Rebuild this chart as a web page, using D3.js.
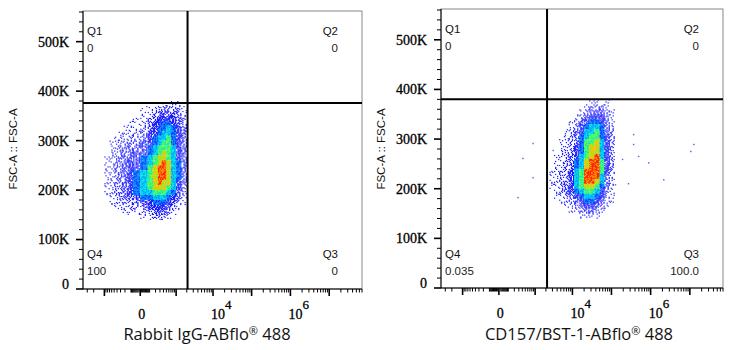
<!DOCTYPE html>
<html>
<head>
<meta charset="utf-8">
<script src="https://cdn.jsdelivr.net/npm/d3@7"></script>
<style>
body { margin: 0; background: #fff; }
</style>
</head>
<body>
<div id="chart"></div>
<script>
// ---- axis values ----
const yDomain = [0, 562000]
const yMajor = [0, 100000, 200000, 300000, 400000, 500000]
const yLabels = ["0", "100K", "200K", "300K", "400K", "500K"]
const xDomain = [-3900, 7e7]
const xMajor = [-1000, 0, 1000, 1e4, 1e5, 1e6, 1e7]
const xLabelVals = [0, 1e4, 1e6]
const xLabelBase = ["0", "10", "10"]
const xLabelExp = ["", "4", "6"]

// ---- gates and quadrant stats ----
const gateX = [2100, 2150]
const gateY = [376000, 380000]
const quadNames = ["Q1", "Q2", "Q3", "Q4"]
const quadLeft = ["0", "0", "0", "100"]
const quadRight = ["0", "0", "100.0", "0.035"]
const xTitles = ["Rabbit IgG-ABflo", "CD157/BST-1-ABflo"]
const yTitle = "FSC-A :: FSC-A"

// ---- density grids (levels 0-9), rows from 380K down to 140K in 10K steps ----
const yEdges = [380000, 370000, 360000, 350000, 340000, 330000, 320000, 310000, 300000,
  290000, 280000, 270000, 260000, 250000, 240000, 230000, 220000, 210000, 200000,
  190000, 180000, 170000, 160000, 150000, 140000]

const leftXEdges = [-1400, -1000, -700, -500, -350, -250, -150, -75, 0, 75, 150, 250, 350, 500, 700, 1000, 1400, 2000]
const leftDensity = [
  "00000000000011110",
  "00000000111222221",
  "00000000112333331",
  "00000001123444432",
  "00000011234455432",
  "00000111234556543",
  "00001112344566543",
  "00011122345667543",
  "00111223445677543",
  "00112233456777643",
  "00112234456787643",
  "01122334567887643",
  "01122344567898653",
  "01122344578998653",
  "01122345678998653",
  "01122345678998653",
  "01122345678988643",
  "01122345678887642",
  "01122345667776532",
  "00112334556665431",
  "00111223445554321",
  "00011122344443210",
  "00000111223332100",
  "00000000112211000"
]

const rightXEdges = [2500, 3300, 4500, 6000, 8000, 11000, 15000, 20000, 27000, 37000, 50000, 66000, 90000, 120000]
const rightDensity = [
  "0000000011010",
  "0000000122210",
  "0000001233321",
  "0000012344421",
  "0000123455431",
  "0000124566531",
  "0001234667532",
  "0001235677542",
  "0011235778642",
  "0011245788642",
  "0012245788642",
  "0112346789642",
  "0112356899742",
  "0112356899742",
  "1122467999742",
  "1122467999631",
  "1122467998631",
  "1123467887531",
  "0123456776421",
  "0112345665421",
  "0011234554311",
  "0001123443210",
  "0000112332100",
  "0000001111000"
]

// scattered events outside the right cloud
const rightOutX = [420, 870, 3140, 870, 279, 368000, 368000, 895000, 493000, 192000, 1.06e7, 1.27e7, 273000, 2.16e6, 127000]
const rightOutY = [261000, 291000, 277000, 222000, 182000, 309000, 289000, 252000, 265000, 259000, 275000, 289000, 210000, 218000, 208000]

// ---- look ----
const width = 734, height = 350
const sparseColor = "#1c1cff"
const levelColors = ["", "#1c1cff", "#1c1cff", "#1c1cff", "#1c1cff", "#0a8cff", "#00dcec", "#5cff48", "#ffc000", "#ff2400"]
const levelCount = [0, 3, 6, 10, 17]
// fixed visiting order for a 5x5 sub-grid of dots inside each cell
const dotOrder = [12, 3, 21, 8, 16, 0, 19, 6, 24, 10, 2, 14, 22, 5, 17, 9, 1, 23, 13, 7, 20, 4, 11, 18, 15]

const panels = [
  {left: 83, right: 362, top: 11, bottom: 289, xDensity: leftXEdges, density: leftDensity,
   outX: [], outY: [], gx: gateX[0], gy: gateY[0], quad: quadLeft, title: xTitles[0],
   titleX: 207, yTitleX: 17, qDy: 0},
  {left: 441, right: 723, top: 9, bottom: 288, xDensity: rightXEdges, density: rightDensity,
   outX: rightOutX, outY: rightOutY, gx: gateX[1], gy: gateY[1], quad: quadRight, title: xTitles[1],
   titleX: 579, yTitleX: 385, qDy: -2}
]

const svg = d3.select("#chart").append("svg")
  .attr("width", width)
  .attr("height", height)
  .attr("viewBox", `0 0 ${width} ${height}`)

function minorX() {
  const t = []
  for (const s of [-1, 1]) {
    for (let d = 10; d <= 1e7; d *= 10) {
      for (let m = 1; m <= 9; m++) {
        const v = s * m * d
        if (v >= xDomain[0] && v <= xDomain[1] && !xMajor.includes(v)) t.push(v)
      }
    }
  }
  return t
}

function drawPanel(p, idx) {
  const g = svg.append("g")
  const x = d3.scaleSymlog().constant(135).domain(xDomain).range([p.left, p.right])
  const y = d3.scaleLinear().domain(yDomain).range([p.bottom, p.top])

  const clipId = "clip" + idx
  svg.append("clipPath").attr("id", clipId)
    .append("rect").attr("x", p.left).attr("y", p.top)
    .attr("width", p.right - p.left).attr("height", p.bottom - p.top)

  // density cells -> dots
  const dots = []
  p.density.forEach((row, r) => {
    for (let c = 0; c < row.length; c++) {
      const lv = +row[c]
      if (!lv) continue
      const x0 = x(p.xDensity[c]), x1 = x(p.xDensity[c + 1])
      const y0 = y(yEdges[r]), y1 = y(yEdges[r + 1])
      const w = (x1 - x0) / 5, h = (y1 - y0) / 5
      if (lv >= 5) {
        dots.push({x: x0, y: y0, w: x1 - x0 + 0.2, h: y1 - y0 + 0.2, color: levelColors[lv]})
      }
      const n = lv >= 5 ? 6 : levelCount[lv]
      const color = lv >= 5 ? levelColors[lv - 1] : sparseColor
      const off = (r * 7 + c * 11) % 25
      for (let k = 0; k < n; k++) {
        const pos = dotOrder[(k + off) % 25]
        const i = pos % 5, j = Math.floor(pos / 5)
        dots.push({x: x0 + i * w, y: y0 + j * h, w: 1.2, h: 1.2, color: color})
      }
    }
  })

  const plot = g.append("g").attr("clip-path", `url(#${clipId})`)
  plot.selectAll("rect.cell")
    .data(dots)
    .join("rect")
    .attr("class", "cell")
    .attr("x", d => d.x)
    .attr("y", d => d.y)
    .attr("width", d => d.w)
    .attr("height", d => d.h)
    .attr("fill", d => d.color)

  plot.selectAll("rect.out")
    .data(p.outX.map((v, i) => [v, p.outY[i]]))
    .join("rect")
    .attr("class", "out")
    .attr("x", d => x(d[0]) - 0.7)
    .attr("y", d => y(d[1]) - 0.7)
    .attr("width", 1.4)
    .attr("height", 1.4)
    .attr("fill", "#5a5af0")

  // frame
  g.append("rect")
    .attr("x", p.left).attr("y", p.top)
    .attr("width", p.right - p.left).attr("height", p.bottom - p.top)
    .attr("fill", "none").attr("stroke", "#888").attr("stroke-width", 1)

  // gates
  g.append("line")
    .attr("x1", p.left).attr("x2", p.right)
    .attr("y1", y(p.gy)).attr("y2", y(p.gy))
    .attr("stroke", "#000").attr("stroke-width", 2)
  g.append("line")
    .attr("x1", x(p.gx)).attr("x2", x(p.gx))
    .attr("y1", p.top).attr("y2", p.bottom)
    .attr("stroke", "#000").attr("stroke-width", 2)

  // y axis
  const yMinor = d3.range(0, yDomain[1], 20000).filter(v => v % 100000 !== 0)
  const ya = g.append("g").attr("transform", `translate(${p.left},0)`)
  ya.append("line").attr("y1", p.top).attr("y2", p.bottom).attr("stroke", "#000")
  ya.selectAll("line.maj").data(yMajor).join("line").attr("class", "maj")
    .attr("x1", -7).attr("x2", 0).attr("y1", d => y(d)).attr("y2", d => y(d))
    .attr("stroke", "#000").attr("stroke-width", 1.6)
  ya.selectAll("line.min").data(yMinor).join("line").attr("class", "min")
    .attr("x1", -4).attr("x2", 0).attr("y1", d => y(d)).attr("y2", d => y(d))
    .attr("stroke", "#000")
  ya.selectAll("text").data(yMajor).join("text")
    .attr("x", -14)
    .attr("y", (d, i) => y(d) + (i === 0 ? -5 : 0))
    .attr("dy", "0.35em")
    .attr("text-anchor", "end")
    .attr("font-family", "'Liberation Serif', serif")
    .attr("font-size", 14)
    .attr("fill", "#000")
    .attr("stroke", "#000")
    .attr("stroke-width", 0.3)
    .text((d, i) => yLabels[i])

  // x axis
  const xa = g.append("g").attr("transform", `translate(0,${p.bottom})`)
  xa.append("line").attr("x1", p.left).attr("x2", p.right).attr("stroke", "#000")
  xa.selectAll("line.maj").data(xMajor).join("line").attr("class", "maj")
    .attr("x1", d => x(d)).attr("x2", d => x(d)).attr("y1", 0).attr("y2", 7)
    .attr("stroke", "#000").attr("stroke-width", 1.6)
  xa.selectAll("line.min").data(minorX()).join("line").attr("class", "min")
    .attr("x1", d => x(d)).attr("x2", d => x(d)).attr("y1", 0).attr("y2", 3.5)
    .attr("stroke", "#000")
  const xl = xa.selectAll("text").data(xLabelVals).join("text")
    .attr("x", (d, i) => i === 0 ? x(d) + 1.5 : x(d) - 2)
    .attr("y", 30)
    .attr("text-anchor", (d, i) => i === 0 ? "middle" : "start")
    .attr("font-family", "'Liberation Serif', serif")
    .attr("font-size", 14)
    .attr("fill", "#000")
    .attr("stroke", "#000")
    .attr("stroke-width", 0.3)
  xl.append("tspan").text((d, i) => xLabelBase[i])
  xl.append("tspan").attr("dy", -10).attr("font-size", 13).text((d, i) => xLabelExp[i])

  // quadrant labels
  const qf = "'Liberation Sans', Arial, sans-serif"
  const qs = [
    {t: quadNames[0], v: p.quad[0], x: p.left + 4, y: 35, a: "start"},
    {t: quadNames[1], v: p.quad[1], x: p.right - 24, y: 35, a: "end"},
    {t: quadNames[2], v: p.quad[2], x: p.right - 24, y: 258, a: "end"},
    {t: quadNames[3], v: p.quad[3], x: p.left + 4, y: 258, a: "start"}
  ]
  qs.forEach((q, i) => {
    const dy = i < 2 ? p.qDy : 0
    g.append("text").attr("x", q.x).attr("y", q.y + dy).attr("text-anchor", q.a)
      .attr("font-family", qf).attr("font-size", 11.5).attr("fill", "#111").text(q.t)
    g.append("text").attr("x", q.x).attr("y", q.y + 17 + dy).attr("text-anchor", q.a)
      .attr("font-family", qf).attr("font-size", 11.5).attr("fill", "#222").text(q.v)
  })

  // y title
  g.append("text")
    .attr("transform", `translate(${p.yTitleX},149) rotate(-90)`)
    .attr("text-anchor", "middle")
    .attr("font-family", qf)
    .attr("font-size", 11.5)
    .attr("fill", "#111")
    .text(yTitle)

  // x title
  const xt = g.append("text")
    .attr("x", p.titleX).attr("y", 340)
    .attr("text-anchor", "middle")
    .attr("font-family", "'Open Sans', sans-serif")
    .attr("font-size", 16.5)
    .attr("fill", "#111")
  xt.append("tspan").text(p.title)
  xt.append("tspan").attr("dy", -5).attr("font-size", 11).text("®")
  xt.append("tspan").attr("dy", 5).text(" 488")
}

panels.forEach(drawPanel)
</script>
</body>
</html>
